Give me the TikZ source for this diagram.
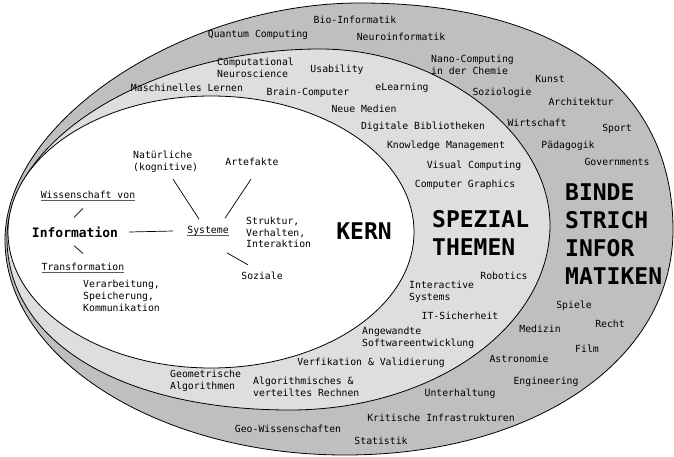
\documentclass[tikz,border=0pt]{standalone}
\usepackage{fontspec}
\setmainfont{DejaVu Sans Mono}
\usetikzlibrary{calc}
\newcommand\myul[1]{\setbox0=\hbox{#1}\rlap{\color{black!65}\rule[-1.6pt]{\wd0}{0.6pt}}\box0}
\begin{document}
\begin{tikzpicture}[x=1pt,y=-1pt,
  lbl/.style={font=\fontsize{9.8}{11.7}\selectfont, inner sep=0pt, align=left},
  lblw/.style={lbl, anchor=west},
  big/.style={font=\fontsize{23}{28}\selectfont\bfseries, inner sep=0pt, align=left},
  ring/.style={draw=black, line width=0.8pt},
  conn/.style={draw=black, line width=0.7pt}]
\useasboundingbox (0,0) rectangle (674,457);

% outer ring (Bindestrich-Informatiken)
\draw[ring, fill=black!25] (5,240)
  .. controls (5,121.5) and (182.5,3) .. (360,3)
  .. controls (557,3) and (673,87) .. (673,230)
  .. controls (673,360) and (535,455) .. (345,455)
  .. controls (158,455) and (5,358) .. (5,240) -- cycle;
% middle ring (Spezialthemen)
\draw[ring, fill=black!13] (7,238)
  .. controls (7,138) and (154,49) .. (320,49)
  .. controls (439.5,49) and (550,133.5) .. (550,225)
  .. controls (550,327) and (433.5,410) .. (290,410)
  .. controls (120,410) and (7,341) .. (7,238) -- cycle;
% core
\draw[ring, fill=white] (211,232) ellipse [x radius=203pt, y radius=136pt];

% outer ring labels
\node[lbl] (bio) at (355,20) {Bio-Informatik};
\node[lbl] (quant) at (258,35) {Quantum Computing};
\node[lbl] (neuroinf) at (401,37) {Neuroinformatik};
\node[lblw] (nano) at (431,65) {Nano-Computing\\in der Chemie};
\node[lbl] (kunst) at (550,79) {Kunst};
\node[lbl] (sozio) at (502,93) {Soziologie};
\node[lbl] (archi) at (581,102) {Architektur};
\node[lbl] (wirt) at (537,123) {Wirtschaft};
\node[lbl] (sport) at (617,129) {Sport};
\node[lbl] (paed) at (568,146) {Pädagogik};
\node[lbl] (gov) at (617,162) {Governments};
\node[big, anchor=west] (binde) at (565,234.5) {BINDE\\STRICH\\INFOR\\MATIKEN};
\node[lbl] (spiele) at (574,306) {Spiele};
\node[lbl] (recht) at (610,324) {Recht};
\node[lbl] (medizin) at (540,329) {Medizin};
\node[lbl] (film) at (587,349) {Film};
\node[lbl] (astro) at (519,359) {Astronomie};
\node[lbl] (engin) at (546,382) {Engineering};
\node[lbl] (unterh) at (460,394) {Unterhaltung};
\node[lbl] (krit) at (441,418) {Kritische Infrastrukturen};
\node[lbl] (geo) at (288,429) {Geo-Wissenschaften};
\node[lbl] (stat) at (381,441) {Statistik};

% middle ring labels
\node[lblw] (compneuro) at (217,67.5) {Computational\\Neuroscience};
\node[lbl] (usab) at (337,70) {Usability};
\node[lbl] (maschl) at (187,88) {Maschinelles Lernen};
\node[lbl] (brain) at (308,93) {Brain-Computer};
\node[lbl] (elearn) at (402,88) {eLearning};
\node[lbl] (neuemed) at (364,109) {Neue Medien};
\node[lbl] (digbib) at (423,127) {Digitale Bibliotheken};
\node[lbl] (knowm) at (446,146) {Knowledge Management};
\node[lbl] (viscomp) at (474,166) {Visual Computing};
\node[lbl] (compgr) at (465,185) {Computer Graphics};
\node[big, anchor=west] (spez) at (432,232.5) {SPEZIAL\\THEMEN};
\node[lbl] (robot) at (504,276) {Robotics};
\node[lblw] (interact) at (409,292) {Interactive\\Systems};
\node[lbl] (itsich) at (460,316) {IT-Sicherheit};
\node[lblw] (angew) at (362,338) {Angewandte\\Softwareentwicklung};
\node[lbl] (verif) at (371,363) {Verfikation \& Validierung};
\node[lblw] (algo) at (253,386.5) {Algorithmisches \&\\verteiltes Rechnen};
\node[lblw] (geom) at (170,381) {Geometrische\\Algorithmen};

% core labels
\node[big] (kern) at (364,231) {KERN};
\node[lblw] (natur) at (133,161.5) {Natürliche\\(kognitive)};
\node[lbl] (artef) at (252,162) {Artefakte};
\node[lbl] (wiss) at (88,196) {\myul{Wissenschaft von}};
\node[lbl, font=\fontsize{13}{15}\selectfont\bfseries] (info) at (75,232) {Information};
\node[lbl] (sys) at (208,231) {\myul{Systeme}};
\node[lblw] (struk) at (246,232.5) {Struktur,\\Verhalten,\\Interaktion};
\node[lbl] (trans) at (83,268) {\myul{Transformation}};
\node[lblw] (verarb) at (83,296) {Verarbeitung,\\Speicherung,\\Kommunikation};
\node[lbl] (sozial) at (262,276) {Soziale};

% connectors
\draw[conn] ([xshift=11pt]info.east) -- ([xshift=-14pt]sys.west);
\draw[conn] (info.north) ++(-1,-9) -- ++(9,-9);
\draw[conn] (info.south) ++(-1,8) -- ++(9,8);
\draw[conn] (sys.north) ++(-9,-7) -- ++(-26,-40);
\draw[conn] (sys.north) ++(17,-8) -- ++(26,-39);
\draw[conn] (sys.south) ++(19,17) -- ++(21,12);
\end{tikzpicture}
\end{document}
